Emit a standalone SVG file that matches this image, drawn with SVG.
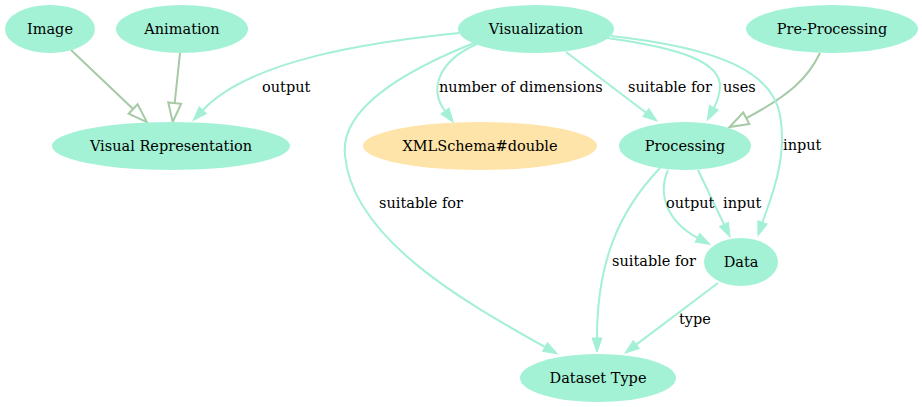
<svg xmlns="http://www.w3.org/2000/svg" width="922" height="407" viewBox="0 0 922 407">
<style>
.n ellipse{fill:#a3f2d6;stroke:none}
.e{fill:none;stroke:#a3f0d6;stroke-width:2}
.s{fill:none;stroke:#a6c9a6;stroke-width:2}
</style>
<defs>
<marker id="fa" markerUnits="userSpaceOnUse" markerWidth="16" markerHeight="12" refX="0" refY="6" orient="auto" overflow="visible">
<path d="M0,1 L14,6 L0,11 z" fill="#a3f0d6" stroke="#a3f0d6" stroke-width="1"/>
</marker>
<marker id="ha" markerUnits="userSpaceOnUse" markerWidth="20" markerHeight="14" refX="0" refY="7" orient="auto" overflow="visible">
<path d="M0,0.5 L19,7 L0,13.5 z" fill="#fff" stroke="#a6c9a6" stroke-width="2"/>
</marker>
</defs>
<g id="edges">
<path class="s" d="M71,50 L133.1,109" marker-end="url(#ha)"/>
<path class="s" d="M180,53 L174.7,103.1" marker-end="url(#ha)"/>
<path class="s" d="M820,53 C808,78 790,95 746.3,118.2" marker-end="url(#ha)"/>
<path class="e" d="M459,33 C370,42 250,60 202.8,110.2" marker-end="url(#fa)"/>
<path class="e" d="M477,44 C440,60 428,88 445,111" marker-end="url(#fa)"/>
<path class="e" d="M566,52 L645.8,112.5" marker-end="url(#fa)"/>
<path class="e" d="M607,38 C680,48 722,62 720,88 C719,97 717,102 713.9,107.8" marker-end="url(#fa)"/>
<path class="e" d="M611,36 C720,48 772,72 780,115 C788,160 770,200 762.5,222.4" marker-end="url(#fa)"/>
<path class="e" d="M668,170 C657,195 668,222 697.5,237.8" marker-end="url(#fa)"/>
<path class="e" d="M698,170 L724,224.4" marker-end="url(#fa)"/>
<path class="e" d="M660,168 C620,210 597,260 597,338" marker-end="url(#fa)"/>
<path class="e" d="M479,41 C400,72 340,110 345,155 C352,240 470,305 545,347" marker-end="url(#fa)"/>
<path class="e" d="M718,283 L636.2,344.6" marker-end="url(#fa)"/>
</g>
<g id="labels" font-family="'DejaVu Serif', serif" font-size="14.5" fill="#000">
<text x="262" y="92">output</text>
<text x="439" y="92">number of dimensions</text>
<text x="628" y="92">suitable for</text>
<text x="723" y="92">uses</text>
<text x="783" y="150">input</text>
<text x="379" y="208">suitable for</text>
<text x="666" y="208">output</text>
<text x="723" y="208">input</text>
<text x="612" y="266">suitable for</text>
<text x="679" y="324">type</text>
</g>
<g font-family="'DejaVu Serif', serif" font-size="14.5" fill="#000" text-anchor="middle">
<g id="image" class="n"><ellipse cx="50" cy="29" rx="45" ry="24"/><text x="50" y="34">Image</text></g>
<g id="animation" class="n"><ellipse cx="182" cy="29" rx="66" ry="24"/><text x="182" y="34">Animation</text></g>
<g id="visualization" class="n"><ellipse cx="536" cy="29" rx="78" ry="24"/><text x="536" y="34">Visualization</text></g>
<g id="preprocessing" class="n"><ellipse cx="832" cy="29" rx="86" ry="24"/><text x="832" y="34">Pre-Processing</text></g>
<g id="visualrep" class="n"><ellipse cx="171" cy="146" rx="119" ry="24"/><text x="171" y="151">Visual Representation</text></g>
<g id="xmldouble" class="n"><ellipse cx="480" cy="146" rx="117" ry="24" style="fill:#ffe4a9"/><text x="480" y="151">XMLSchema#double</text></g>
<g id="processing" class="n"><ellipse cx="685" cy="146" rx="66" ry="24"/><text x="685" y="151">Processing</text></g>
<g id="data" class="n"><ellipse cx="741" cy="262" rx="37" ry="24"/><text x="741" y="267">Data</text></g>
<g id="datasettype" class="n"><ellipse cx="598" cy="378" rx="78" ry="24"/><text x="598" y="383">Dataset Type</text></g>
</g>
</svg>
